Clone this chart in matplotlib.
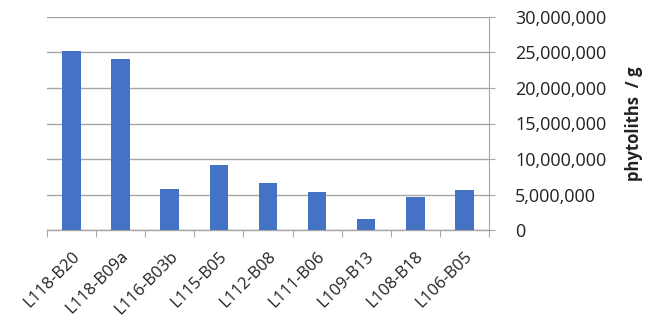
import matplotlib
matplotlib.use('Agg')
import matplotlib.pyplot as plt
from matplotlib.ticker import FuncFormatter, FixedLocator

samples = ['L118-B20', 'L118-B09a', 'L116-B03b', 'L115-B05', 'L112-B08',
           'L111-B06', 'L109-B13', 'L108-B18', 'L106-B05']
phytoliths_per_g = [25200000, 24050000, 5800000, 9200000, 6650000,
                    5400000, 1550000, 4650000, 5650000]
y_ticks = [0, 5000000, 10000000, 15000000, 20000000, 25000000, 30000000]

BAR_COLOR = '#4472C4'
GRID_COLOR = '#a6a6a6'
TEXT_COLOR = '#222222'

plt.rcParams['font.family'] = ['Open Sans', 'DejaVu Sans']

fig = plt.figure(figsize=(6.48, 3.25), dpi=100)
ax = fig.add_axes([0.0725, 0.292, 0.682, 0.656])

x = range(len(samples))
ax.bar(x, phytoliths_per_g, width=0.38, color=BAR_COLOR, zorder=3)

ax.set_xlim(-0.5, len(samples) - 0.5)
ax.set_ylim(0, 30000000)

# value axis on the right
ax.yaxis.tick_right()
ax.yaxis.set_label_position('right')
ax.set_yticks(y_ticks)
ax.yaxis.set_major_formatter(FuncFormatter(lambda v, p: f'{int(v):,}'))
ax.tick_params(axis='y', length=4, width=0.8, color=GRID_COLOR,
               labelsize=13, labelcolor=TEXT_COLOR, pad=15)
ax.set_ylabel('phytoliths  / g', fontsize=12, fontweight='bold',
              color=TEXT_COLOR, labelpad=13)

# category labels centred on bars, tick marks between categories
ax.set_xticks(list(x))
ax.set_xticklabels(samples, rotation=45, ha='right', rotation_mode='anchor',
                   fontsize=12, color=TEXT_COLOR)
ax.tick_params(axis='x', length=0, pad=13)
ax.xaxis.set_minor_locator(FixedLocator([i - 0.5 for i in range(len(samples) + 1)]))
ax.tick_params(axis='x', which='minor', length=5, width=0.8, color=GRID_COLOR)

ax.grid(axis='y', color=GRID_COLOR, linewidth=1.0, zorder=0)
for side in ['top', 'left']:
    ax.spines[side].set_visible(False)
ax.spines['bottom'].set_color(GRID_COLOR)
ax.spines['right'].set_color(GRID_COLOR)
ax.spines['bottom'].set_linewidth(1.0)
ax.spines['right'].set_linewidth(0.8)

fig.savefig('out.png', dpi=100)
